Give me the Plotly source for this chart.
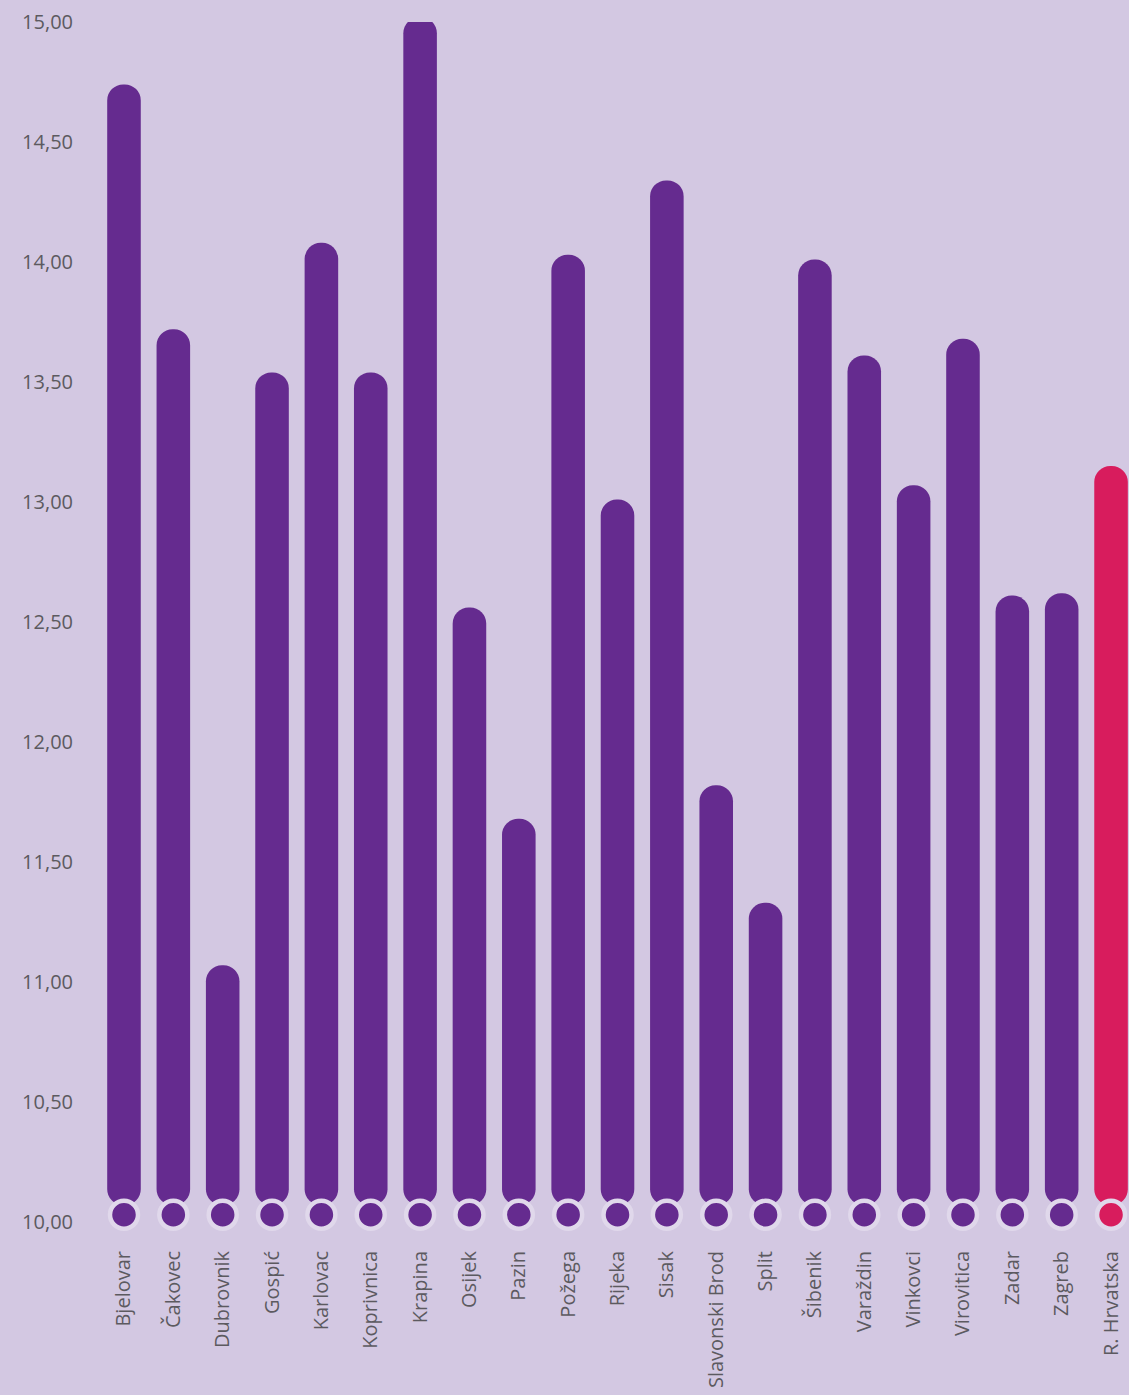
import plotly.graph_objects as go

categories = ["Bjelovar", "Čakovec", "Dubrovnik", "Gospić", "Karlovac", "Koprivnica",
              "Krapina", "Osijek", "Pazin", "Požega", "Rijeka", "Sisak",
              "Slavonski Brod", "Split", "Šibenik", "Varaždin", "Vinkovci",
              "Virovitica", "Zadar", "Zagreb", "R. Hrvatska"]
values = [14.74, 13.72, 11.07, 13.54, 14.08, 13.54,
          15.02, 12.56, 11.68, 14.03, 13.01, 14.34,
          11.82, 11.33, 14.01, 13.61, 13.07,
          13.68, 12.61, 12.62, 13.15]
tick_vals = [10, 10.5, 11, 11.5, 12, 12.5, 13, 13.5, 14, 14.5, 15]
tick_text = ["10,00", "10,50", "11,00", "11,50", "12,00", "12,50",
             "13,00", "13,50", "14,00", "14,50", "15,00"]

PURPLE = "#652b8f"
PINK = "#d81c5d"
BG = "#d3c8e2"
RING = "#e0d8eb"
TEXT = "#5c5a60"
colors = [PURPLE] * (len(categories) - 1) + [PINK]

bar_base = 10.07
dot_y = 10.03

fig = go.Figure()
fig.add_trace(go.Bar(
    x=categories,
    y=[v - bar_base for v in values],
    base=bar_base,
    width=0.68,
    marker=dict(color=colors, line=dict(width=0)),
    cliponaxis=False,
    hoverinfo="skip",
))
fig.add_trace(go.Scatter(
    x=categories,
    y=[dot_y] * len(categories),
    mode="markers",
    marker=dict(size=28, color=colors, line=dict(color=RING, width=4.5)),
    cliponaxis=False,
    hoverinfo="skip",
))

tfont = dict(family="Open Sans", size=20, color=TEXT)
fig.update_layout(
    width=1129, height=1395,
    margin=dict(l=100, r=0, t=22, b=173),
    paper_bgcolor=BG, plot_bgcolor=BG,
    showlegend=False,
    barcornerradius=16,
    font=tfont,
)
fig.update_xaxes(
    type="category",
    range=[-0.486, 20.364],
    tickangle=-90,
    showgrid=False, zeroline=False, showline=False,
    ticks="", ticklabelstandoff=24,
    tickfont=tfont,
)
fig.update_yaxes(
    range=[10, 15],
    tickvals=tick_vals, ticktext=tick_text,
    showgrid=False, zeroline=False, showline=False,
    ticks="", ticklabelstandoff=26,
    tickfont=tfont,
)

fig.write_html(
    "out.html",
    config={"displayModeBar": False},
    post_script="document.body.style.margin='0';document.body.style.overflow='hidden';document.body.style.background='" + BG + "';",
)
